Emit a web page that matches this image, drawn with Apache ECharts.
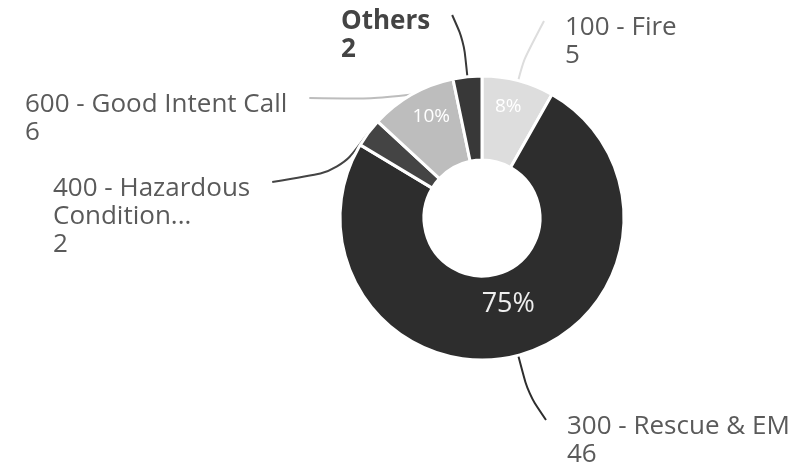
<!DOCTYPE html>
<html>
<head>
<meta charset="utf-8">
<script src="https://cdn.jsdelivr.net/npm/echarts@6/dist/echarts.min.js"></script>
<style>
  html, body { margin: 0; padding: 0; background: #fff; }
  #chart { width: 791px; height: 464px; }
</style>
</head>
<body>
<div id="chart"></div>
<script>
var categories = ['100 - Fire', '300 - Rescue & EMS', '400 - Hazardous\nCondition...', '600 - Good Intent Call', 'Others'];
var counts = [5, 46, 2, 6, 2];
var colors = ['#dddddd', '#2d2d2d', '#444444', '#bdbdbd', '#383838'];

// where each outside label block sits (left/top of text), and how far its leader runs out radially
var labelSpots = [[565, 14], [567, 413], [53, 175], [25, 91], [341, 8]];
var leaderLen = [22, 40, 10, 14, 36];

window.onload = function() {
    var chart = echarts.init(document.getElementById('chart'));
    var cx = 482, cy = 218;

    var pieData = categories.map(function(name, i) {
        var item = {
            name: name,
            value: counts[i],
            itemStyle: { color: colors[i] },
            labelLine: { length: leaderLen[i] }
        };
        if (name === 'Others') {
            item.label = { fontWeight: 'bold', color: '#444' };
        }
        return item;
    });

    chart.setOption({
        backgroundColor: '#ffffff',
        animation: false,
        series: [{
            type: 'pie',
            center: [cx, cy],
            radius: [58, 142],
            startAngle: 90,
            clockwise: true,
            itemStyle: { borderColor: '#ffffff', borderWidth: 3 },
            label: {
                show: true,
                position: 'outside',
                formatter: '{b}\n{c}',
                fontFamily: 'Open Sans',
                fontSize: 26,
                lineHeight: 28,
                color: '#5a5a5a',
                overflow: 'none'
            },
            labelLine: {
                show: true,
                smooth: 0.3,
                length: 20,
                length2: 10,
                lineStyle: { width: 2 }
            },
            labelLayout: function(p) {
                var s = labelSpots[p.dataIndex];
                var pts = p.labelLinePoints;
                var endX = s[0] > cx ? s[0] - 21 : s[0] + p.labelRect.width + 22;
                var out = { x: s[0], y: s[1], align: 'left', verticalAlign: 'top' };
                if (pts) {
                    out.labelLinePoints = [pts[0], pts[1], [endX, s[1] + 7]];
                }
                return out;
            },
            data: pieData
        }, {
            type: 'pie',
            center: [cx, cy],
            radius: [58, 142],
            startAngle: 90,
            clockwise: true,
            silent: true,
            itemStyle: { color: 'transparent' },
            label: {
                show: true,
                position: 'inside',
                formatter: function(p) {
                    return p.percent >= 5 ? Math.round(p.percent) + '%' : '';
                },
                fontFamily: 'Open Sans',
                fontSize: 19,
                color: '#ffffff'
            },
            labelLine: { show: false },
            labelLayout: function(p) {
                return { dy: p.dataIndex === 1 ? -13 : -12 };
            },
            data: categories.map(function(name, i) {
                var item = { name: name, value: counts[i] };
                if (i === 1) item.label = { fontSize: 27, color: '#eeeeee' };
                return item;
            })
        }]
    });
};
</script>
</body>
</html>
